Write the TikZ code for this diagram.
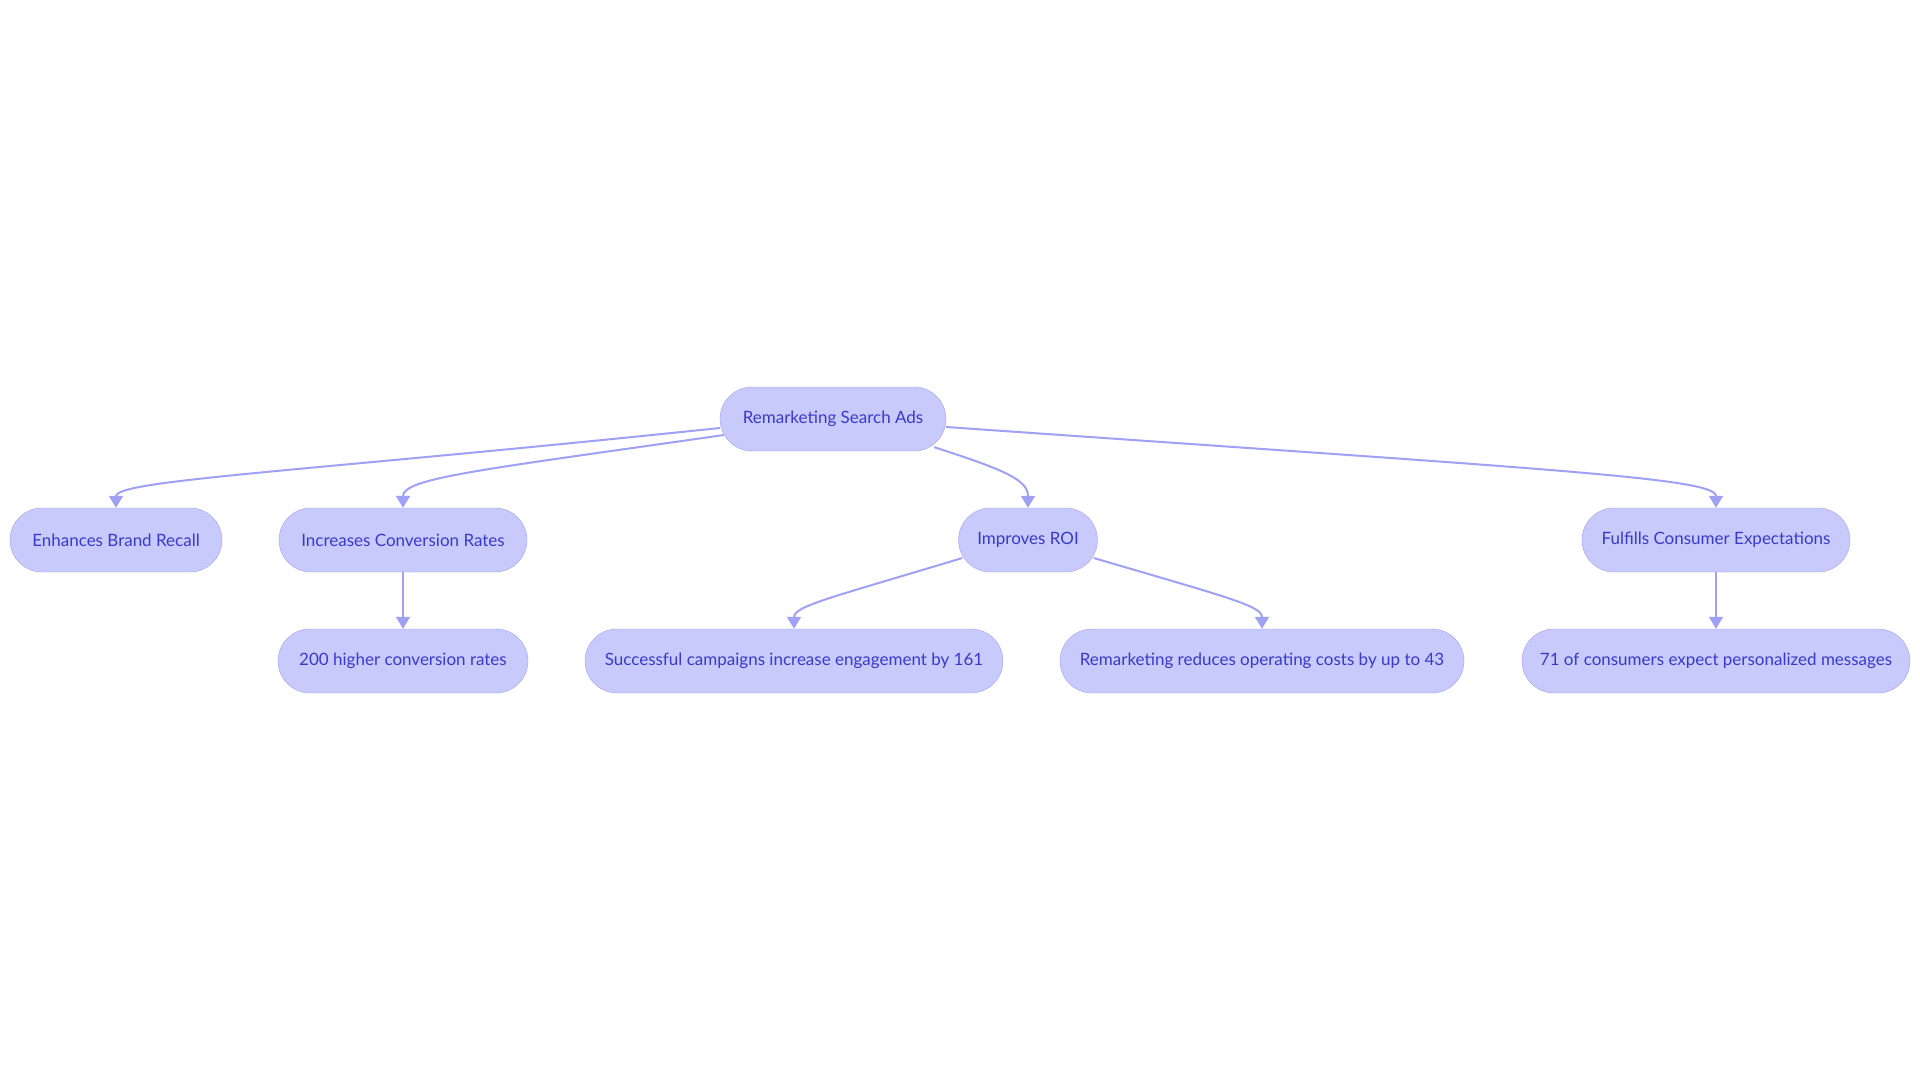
\documentclass[tikz,border=0pt]{standalone}
\usepackage{fontspec}
\setmainfont{Lato}
\usetikzlibrary{arrows.meta,backgrounds}
\definecolor{boxfill}{HTML}{C8CAFC}
\definecolor{boxline}{HTML}{9FA3F0}
\definecolor{boxtext}{HTML}{3A3AC8}
\definecolor{linkline}{HTML}{9EA1F4}

\begin{document}
\begin{tikzpicture}[x=1pt,y=-1pt,
    stadium/.style = {draw=boxline,fill=boxfill,text=boxtext,rounded corners=32pt,minimum height=64pt,inner xsep=4pt,font=\fontsize{17}{20}\selectfont},
    link/.style = {draw=linkline,line width=2pt,-{Triangle[width=14pt,length=12pt]}}]
			\useasboundingbox (0,0) rectangle (1920,1083);
			\node (root) at (833, 419) [stadium, minimum width=226pt] {Remarketing Search Ads};
			\node (recall) at (116, 540) [stadium, minimum width=212pt] {Enhances Brand Recall};
			\node (conv) at (403, 540) [stadium, minimum width=248pt] {Increases Conversion Rates};
			\node (roi) at (1028, 540) [stadium, minimum width=139pt] {Improves ROI};
			\node (expect) at (1716, 540) [stadium, minimum width=268pt] {Fulfills Consumer Expectations};
			\node (conv200) at (403, 661) [stadium, minimum width=250pt] {200 higher conversion rates};
			\node (engage) at (794, 661) [stadium, minimum width=418pt] {Successful campaigns increase engagement by 161};
			\node (costs) at (1262, 661) [stadium, minimum width=404pt] {Remarketing reduces operating costs by up to 43};
			\node (msgs) at (1716, 661) [stadium, minimum width=388pt] {71 of consumers expect personalized messages};
			\begin{scope}[on background layer]
			\fill[white] (0,0) rectangle (1920,1083);
			\draw [link] ([yshift=-9pt]root.west) .. controls (300,472) and (116,480) .. (recall.north);
			\draw [link] ([xshift=4pt,yshift=-16pt]root.west) .. controls (480,470) and (403,478) .. (conv.north);
			\draw [link] ([xshift=-12pt,yshift=4pt]root.south east) .. controls (1005,470) and (1028,480) .. (roi.north);
			\draw [link] ([yshift=-8pt]root.east) .. controls (1560,470) and (1716,478) .. (expect.north);
			\draw [link] (conv.south) -- (conv200.north);
			\draw [link] ([xshift=4pt,yshift=-18pt]roi.west) .. controls (830,598) and (794,606) .. (engage.north);
			\draw [link] ([xshift=-4pt,yshift=-18pt]roi.east) .. controls (1230,598) and (1262,606) .. (costs.north);
			\draw [link] (expect.south) -- (msgs.north);
			\end{scope}
		\end{tikzpicture}
\end{document}
